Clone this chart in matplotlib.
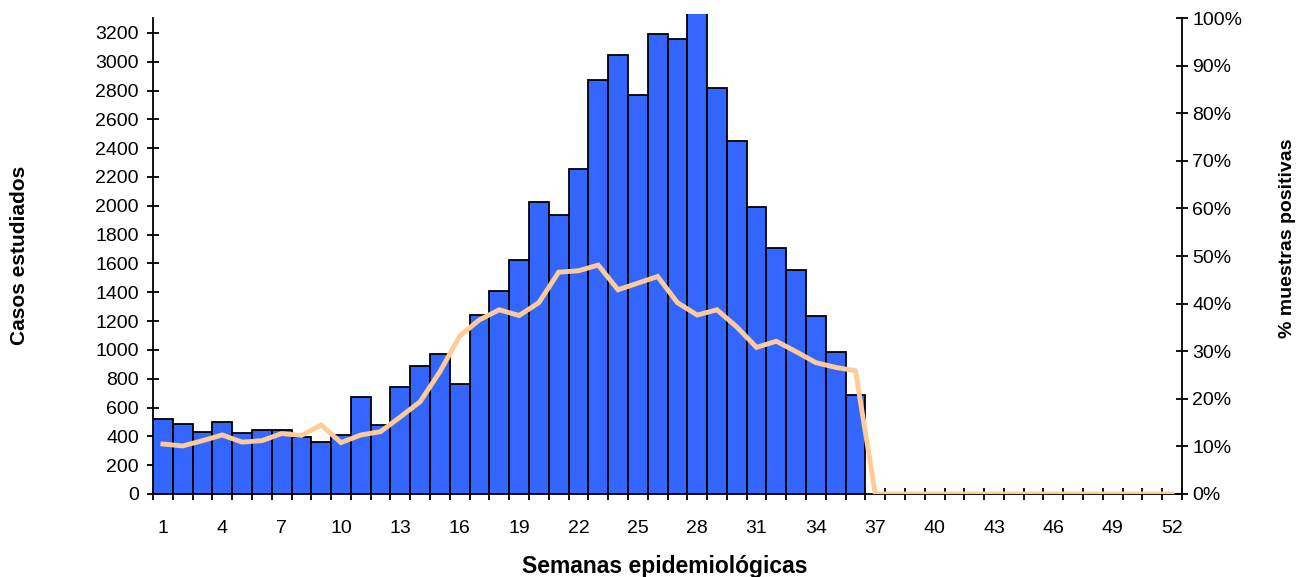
import matplotlib
matplotlib.use("Agg")
import matplotlib.pyplot as plt
from matplotlib.ticker import FixedLocator, PercentFormatter
import numpy as np

plt.rcParams['font.family'] = ['Liberation Sans', 'DejaVu Sans']

weeks = list(range(1, 53))

# Weekly number of studied cases (weeks 1-36)
casos = [520, 488, 430, 500, 421, 442, 442, 396, 363, 409,
         673, 479, 743, 890, 969, 763, 1244, 1406, 1621, 2024,
         1934, 2255, 2873, 3046, 2769, 3194, 3160, 3400, 2817, 2452,
         1994, 1705, 1554, 1235, 983, 685]

# Weekly percentage of positive samples (weeks 1-52)
positivos = [10.5, 10.1, 11.2, 12.4, 10.9, 11.2, 12.7, 12.3, 14.5, 10.8,
             12.4, 13.1, 16.2, 19.4, 25.7, 33.2, 36.6, 38.7, 37.5, 40.2,
             46.6, 46.9, 48.1, 42.9, 44.3, 45.7, 40.2, 37.6, 38.7, 35.1,
             30.8, 32.1, 29.9, 27.6, 26.6, 25.9, 0, 0, 0, 0,
             0, 0, 0, 0, 0, 0, 0, 0, 0, 0,
             0, 0]

xtick_labels = [1, 4, 7, 10, 13, 16, 19, 22, 25, 28, 31, 34, 37, 40, 43, 46, 49, 52]
ytick_left = list(range(0, 3201, 200))
ytick_right = list(range(0, 101, 10))

W, H = 1307, 577
fig = plt.figure(figsize=(W / 100, H / 100), dpi=100)
left, right, bottom, top = 153, 1182, 494, 14
ax = fig.add_axes([left / W, 1 - bottom / H, (right - left) / W, (bottom - top) / H])

ax.bar(weeks[:len(casos)], casos, width=1.0, color='#3366FF',
       edgecolor='black', linewidth=1.3, zorder=2)
ax.set_xlim(0.5, 52.5)
ymax = 3331
ax.set_ylim(0, ymax)

ax2 = ax.twinx()
ax2.plot(weeks, positivos, color='#FFCC99', linewidth=3.5, zorder=3,
         solid_joinstyle='miter')
ax2.set_ylim(0, 100 * ymax / 3303)
ax2.set_xlim(0.5, 52.5)

# Spines: left, right and bottom only
for a in (ax, ax2):
    a.spines['top'].set_visible(False)
ax.spines['right'].set_visible(False)
ax2.spines['left'].set_visible(False)
ax2.spines['bottom'].set_visible(False)
for sp in ('left', 'bottom'):
    ax.spines[sp].set_linewidth(1.3)
ax2.spines['right'].set_linewidth(1.3)
ax.spines['left'].set_bounds(0, 3303)
ax2.spines['right'].set_bounds(0, 100)

tick_fs = 14
ax.set_yticks(ytick_left)
ax.tick_params(axis='y', direction='inout', length=8.5, width=1.3, labelsize=tick_fs, pad=6)
ax2.set_yticks(ytick_right)
ax2.yaxis.set_major_formatter(PercentFormatter(decimals=0))
ax2.tick_params(axis='y', direction='inout', length=8.5, width=1.3, labelsize=tick_fs, pad=3)

ax.set_xticks(xtick_labels)
ax.set_xticklabels([str(v) for v in xtick_labels])
ax.xaxis.set_minor_locator(FixedLocator(np.arange(0.5, 53, 1.0)))
ax.tick_params(axis='x', which='major', length=0, labelsize=tick_fs, pad=19)
ax.tick_params(axis='x', which='minor', direction='inout', length=8.5, width=1.3)

fig.text(20 / W, 1 - 255 / H, 'Casos estudiados', rotation=90, ha='center', va='center',
         fontsize=15, fontweight='bold')
fig.text(1288 / W, 1 - 238 / H, '% muestras positivas', rotation=90, ha='center', va='center',
         fontsize=14, fontweight='bold')
fig.text(665 / W, 1 - 567 / H, 'Semanas epidemiológicas', ha='center', va='center',
         fontsize=16.5, fontweight='bold')

fig.savefig('out.png', dpi=100)
